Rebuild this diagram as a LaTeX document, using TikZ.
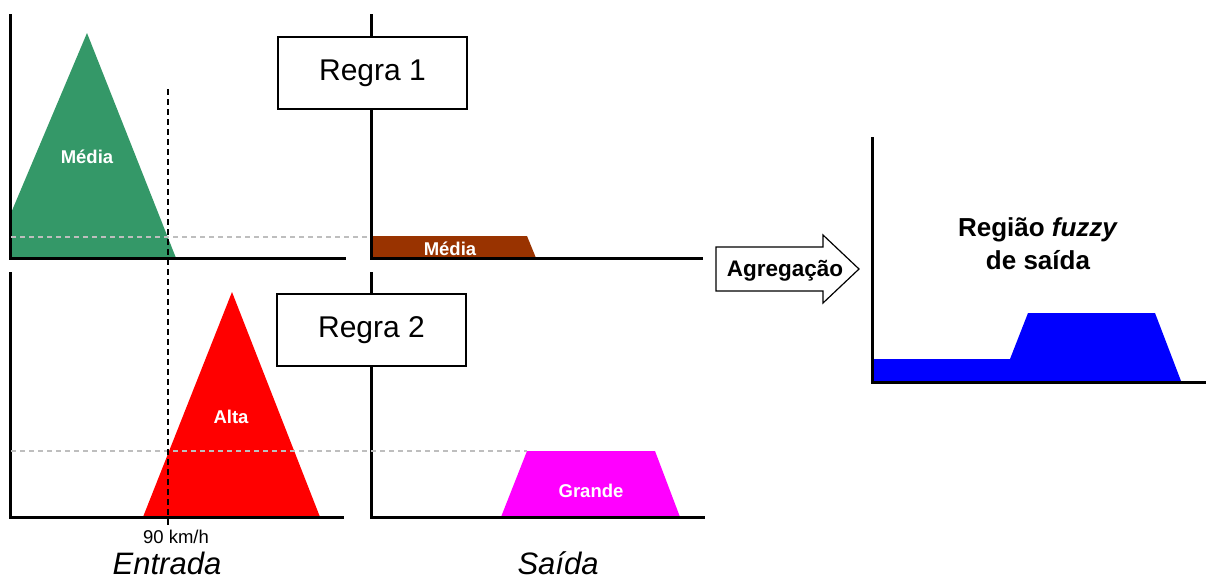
\documentclass[tikz,border=0pt]{standalone}
\usepackage{fontspec}
\setmainfont{Liberation Sans}
\definecolor{mgreen}{RGB}{52,152,104}
\definecolor{mbrown}{RGB}{153,51,0}
\definecolor{mgray}{RGB}{190,190,190}
\definecolor{mred}{RGB}{255,0,0}
\definecolor{mmagenta}{RGB}{255,0,255}
\definecolor{mblue}{RGB}{0,0,255}
\tikzset{
  axisline/.style={line width=3pt, black},
  rulebox/.style={draw, line width=1.8pt, fill=white, minimum width=189pt, minimum height=72pt, inner sep=0pt, font=\fontsize{30}{36}\selectfont},
  setlabel/.style={text=white, inner sep=0pt, font=\bfseries\fontsize{18.5}{22}\selectfont},
  guide/.style={mgray, line width=1.2pt, dash pattern=on 5pt off 4pt},
  cutline/.style={black, line width=1.4pt, dash pattern=on 6pt off 4pt},
  caption/.style={inner sep=0pt, font=\itshape\fontsize{31}{36}\selectfont},
}
\begin{document}
\begin{tikzpicture}[x=1pt, y=-1pt]
\useasboundingbox (0,0) rectangle (1206,579);
% fills
\fill[mgreen] (11,213) -- (87,33) -- (176,258) -- (11,258) -- cycle;
\fill[mbrown] (371,236) -- (527,236) -- (536,258) -- (371,258) -- cycle;
\fill[mred] (143,517) -- (232,292) -- (320,517) -- cycle;
\fill[mmagenta] (501,517) -- (527,451) -- (655,451) -- (680,517) -- cycle;
\fill[mblue] (873,359) -- (1010,359) -- (1028,313) -- (1155,313) -- (1181,381) -- (873,381) -- cycle;
% axes
\draw[axisline] (10,14) -- (10,258) -- (346,258);
\draw[axisline] (371,14) -- (371,258) -- (703,258);
\draw[axisline] (10,272) -- (10,517) -- (344,517);
\draw[axisline] (371,272) -- (371,517) -- (705,517);
\draw[axisline] (872,137) -- (872,382) -- (1206,382);
% guides
\draw[guide] (11,237) -- (370,237);
\draw[guide] (11,451) -- (527,451);
% rule boxes
\node[rulebox] (r1) at (372.5,73) {Regra 1};
\node[rulebox] (r2) at (371.5,330) {Regra 2};
% set labels
\node[setlabel] (lmedia) at (87,157) {Média};
\node[setlabel] (omedia) at (450,249) {Média};
\node[setlabel] (lalta) at (231,417) {Alta};
\node[setlabel] (ogrande) at (591,491) {Grande};
% captions
\node[inner sep=0pt, font=\fontsize{18.5}{22}\selectfont] (km) at (176,537) {90 km/h};
\node[caption] (entrada) at (167,563) {Entrada};
\node[caption] (saida) at (558,563) {Saída};
\coordinate (cuttop) at (168,89);
\coordinate (cutbot) at (168,527);
\draw[cutline] (cuttop) -- (cutbot);
% aggregation arrow
\draw[line width=1.2pt, fill=white] (716,247) -- (823,247) -- (823,235) -- (859,269) -- (823,303) -- (823,291) -- (716,291) -- cycle;
\node[inner sep=0pt, font=\bfseries\fontsize{22.5}{26}\selectfont] (agr) at (785,271) {Agregação};
% result label
\node[inner sep=0pt, align=center, font=\bfseries\fontsize{26}{33}\selectfont] (regiao) at (1038,244) {Região \textit{fuzzy}\\de saída};
\end{tikzpicture}
\end{document}
